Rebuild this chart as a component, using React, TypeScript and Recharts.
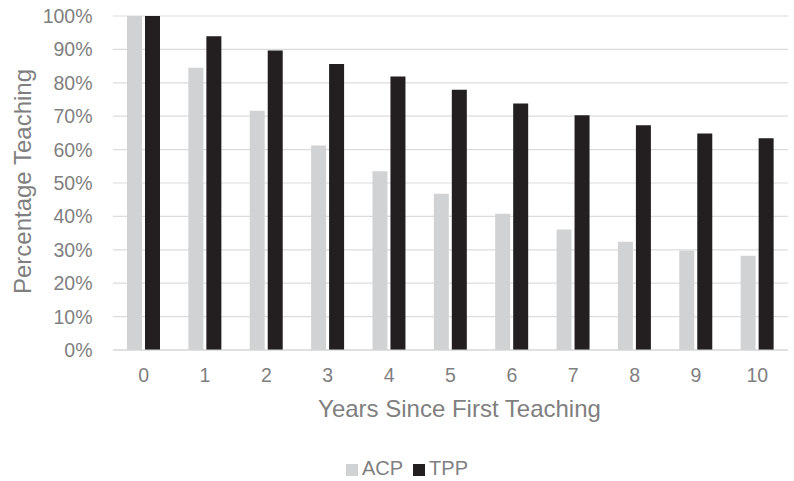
import { BarChart, Bar, CartesianGrid, XAxis, YAxis, Legend, Label } from "recharts";

const years = ["0", "1", "2", "3", "4", "5", "6", "7", "8", "9", "10"];
const acp = [100, 84.5, 71.6, 61.2, 53.5, 46.8, 40.8, 36.1, 32.4, 29.8, 28.2];
const tpp = [100, 93.9, 89.7, 85.6, 81.9, 77.9, 73.8, 70.3, 67.3, 64.8, 63.4];
const yTicks = [0, 10, 20, 30, 40, 50, 60, 70, 80, 90, 100];

const FONT = '"Liberation Sans", Arial, sans-serif';
const GREY = "#7f7f7f";

const data = years.map((year, i) => ({ year, ACP: acp[i], TPP: tpp[i] }));

// rotated axis title, centred on the plot height
function YTitle({ viewBox }: any) {
  const cx = 22;
  const cy = viewBox ? viewBox.y + viewBox.height / 2 - 1.5 : 181.5;
  return (
    <text
      x={cx}
      y={cy}
      transform={`rotate(-90, ${cx}, ${cy})`}
      textAnchor="middle"
      dominantBaseline="central"
      fill={GREY}
      fontSize={24}
      fontFamily={FONT}
    >
      Percentage Teaching
    </text>
  );
}

export default function App() {
  return (
    <div style={{ position: "absolute", left: 0, top: 0, width: 794, height: 481, background: "#fff" }}>
      <BarChart
        width={794}
        height={481}
        data={data}
        margin={{ top: 16, right: 6, left: 0, bottom: 101 }}
        barSize={15}
        barGap={3}
        style={{ fontFamily: FONT }}
      >
        <CartesianGrid vertical={false} stroke="#dcdcdc" strokeWidth={1.2} />
        <XAxis
          dataKey="year"
          tickLine={false}
          axisLine={{ stroke: "#d4d4d4" }}
          tickSize={0}
          tickMargin={18.5}
          height={30}
          tick={{ fill: GREY, fontSize: 19.5 }}
        >
          <Label
            value="Years Since First Teaching"
            position="bottom"
            offset={20}
            dx={9}
            fill={GREY}
            fontSize={24}
          />
        </XAxis>
        <YAxis
          width={113}
          domain={[0, 100]}
          ticks={yTicks}
          interval={0}
          tickFormatter={(v: number) => `${v}%`}
          tickLine={false}
          axisLine={false}
          tickSize={0}
          tickMargin={20.5}
          tick={{ fill: GREY, fontSize: 19.5 }}
        >
          <Label content={<YTitle />} />
        </YAxis>
        <Legend
          layout="horizontal"
          verticalAlign="middle"
          align="center"
          iconType="square"
          iconSize={12}
          wrapperStyle={{ top: 456, left: 15, width: 794, fontSize: 20, lineHeight: "24px" }}
          formatter={(value: string) => <span style={{ color: GREY }}>{value}</span>}
        />
        <Bar dataKey="ACP" fill="#d1d2d4" isAnimationActive={false} />
        <Bar dataKey="TPP" fill="#231f20" isAnimationActive={false} />
      </BarChart>
    </div>
  );
}
